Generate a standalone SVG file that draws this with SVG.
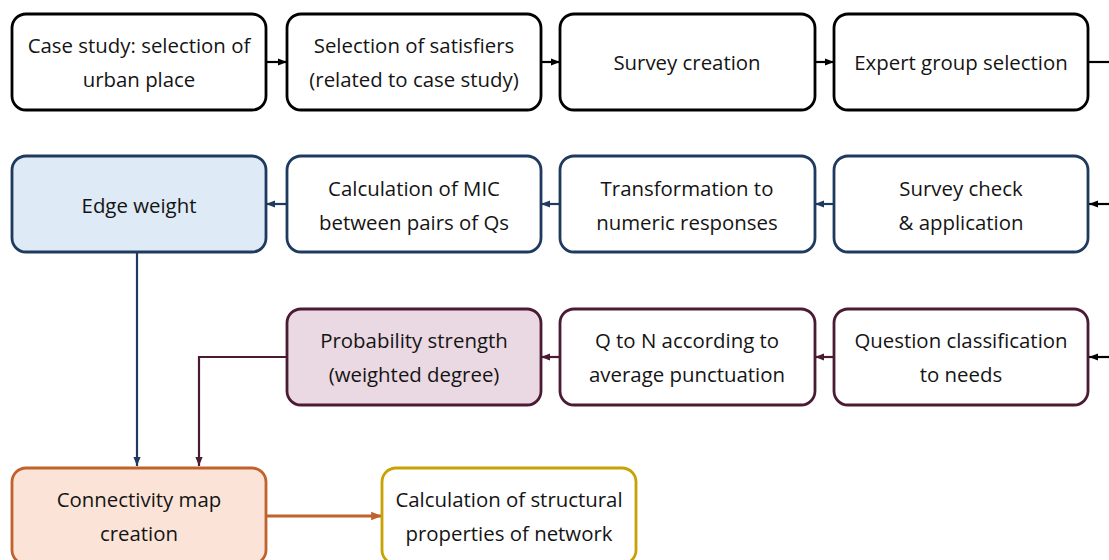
<svg xmlns="http://www.w3.org/2000/svg" width="1109" height="560" viewBox="0 0 1109 560">
<defs>
<style>
.box{stroke-width:2.8;}
.k{stroke:#000;fill:#fff;}
.b{stroke:#1f3a5f;fill:#fff;}
.bf{stroke:#1f3a5f;fill:#deeaf6;}
.p{stroke:#4b1a35;fill:#fff;}
.pf{stroke:#4b1a35;fill:#ead8e2;}
.o{stroke:#c0622c;fill:#fbe4d7;}
.g{stroke:#c9a100;fill:#fff;}
text{font-family:"Open Sans","Noto Sans","Liberation Sans",sans-serif;font-size:20.4px;fill:#141414;text-anchor:middle;}
.c{fill:none;stroke-width:2.2;}
.c.thick{stroke-width:3;}
</style>
<marker id="ak" viewBox="0 0 10 10" refX="10" refY="5" markerWidth="4.2" markerHeight="4.2" orient="auto" markerUnits="strokeWidth"><path d="M0,1 L10,5 L0,9 z" fill="#000"/></marker>
<marker id="ab" viewBox="0 0 10 10" refX="10" refY="5" markerWidth="4.2" markerHeight="4.2" orient="auto" markerUnits="strokeWidth"><path d="M0,1 L10,5 L0,9 z" fill="#1f3a5f"/></marker>
<marker id="ap" viewBox="0 0 10 10" refX="10" refY="5" markerWidth="4.2" markerHeight="4.2" orient="auto" markerUnits="strokeWidth"><path d="M0,1 L10,5 L0,9 z" fill="#4b1a35"/></marker>
<marker id="ao" viewBox="0 0 10 10" refX="10" refY="5" markerWidth="3.6" markerHeight="3.6" orient="auto" markerUnits="strokeWidth"><path d="M0,1 L10,5 L0,9 z" fill="#c0622c"/></marker>
</defs>
<rect width="1109" height="560" fill="#fff"/>
<g id="connectors">
<line class="c" x1="266" y1="62" x2="287" y2="62" stroke="#000" marker-end="url(#ak)"/>
<line class="c" x1="541" y1="62" x2="560" y2="62" stroke="#000" marker-end="url(#ak)"/>
<line class="c" x1="815" y1="62" x2="834" y2="62" stroke="#000" marker-end="url(#ak)"/>
<line class="c" x1="1089" y1="62" x2="1109" y2="62" stroke="#000"/>
<line class="c" x1="1109" y1="204" x2="1089" y2="204" stroke="#000" marker-end="url(#ak)"/>
<line class="c" x1="834" y1="204" x2="815" y2="204" stroke="#1f3a5f" marker-end="url(#ab)"/>
<line class="c" x1="560" y1="204" x2="541" y2="204" stroke="#1f3a5f" marker-end="url(#ab)"/>
<line class="c" x1="287" y1="204" x2="266" y2="204" stroke="#1f3a5f" marker-end="url(#ab)"/>
<line class="c" x1="1109" y1="357" x2="1089" y2="357" stroke="#000" marker-end="url(#ak)"/>
<line class="c" x1="834" y1="357" x2="815" y2="357" stroke="#4b1a35" marker-end="url(#ap)"/>
<line class="c" x1="560" y1="357" x2="541" y2="357" stroke="#4b1a35" marker-end="url(#ap)"/>
<line class="c" x1="137" y1="252" x2="137" y2="466" stroke="#1f3a5f" marker-end="url(#ab)"/>
<polyline class="c" points="287,357 199,357 199,466" stroke="#4b1a35" marker-end="url(#ap)"/>
<line class="c thick" x1="266" y1="516" x2="382" y2="516" stroke="#c0622c" marker-end="url(#ao)"/>
</g>
<g id="n1"><rect class="box k" x="12" y="14" width="254" height="96" rx="14"/><text x="139" y="53">Case study: selection of</text><text x="139" y="87">urban place</text></g>
<g id="n2"><rect class="box k" x="287" y="14" width="254" height="96" rx="14"/><text x="414" y="53">Selection of satisfiers</text><text x="414" y="87">(related to case study)</text></g>
<g id="n3"><rect class="box k" x="560" y="14" width="255" height="96" rx="14"/><text x="687" y="70">Survey creation</text></g>
<g id="n4"><rect class="box k" x="834" y="14" width="254" height="96" rx="14"/><text x="961" y="70">Expert group selection</text></g>
<g id="n5"><rect class="box bf" x="12" y="156" width="254" height="96" rx="14"/><text x="139" y="213">Edge weight</text></g>
<g id="n6"><rect class="box b" x="287" y="156" width="254" height="96" rx="14"/><text x="414" y="196">Calculation of MIC</text><text x="414" y="230">between pairs of Qs</text></g>
<g id="n7"><rect class="box b" x="560" y="156" width="255" height="96" rx="14"/><text x="687" y="196">Transformation to</text><text x="687" y="230">numeric responses</text></g>
<g id="n8"><rect class="box b" x="834" y="156" width="254" height="96" rx="14"/><text x="961" y="196">Survey check</text><text x="961" y="230">&amp; application</text></g>
<g id="n9"><rect class="box pf" x="287" y="309" width="254" height="96" rx="14"/><text x="414" y="348">Probability strength</text><text x="414" y="382">(weighted degree)</text></g>
<g id="n10"><rect class="box p" x="560" y="309" width="255" height="96" rx="14"/><text x="687" y="348">Q to N according to</text><text x="687" y="382">average punctuation</text></g>
<g id="n11"><rect class="box p" x="834" y="309" width="254" height="96" rx="14"/><text x="961" y="348">Question classification</text><text x="961" y="382">to needs</text></g>
<g id="n12"><rect class="box o" x="12" y="468" width="254" height="96" rx="14"/><text x="139" y="507">Connectivity map</text><text x="139" y="541">creation</text></g>
<g id="n13"><rect class="box g" x="382" y="468" width="254" height="96" rx="14"/><text x="509" y="507">Calculation of structural</text><text x="509" y="541">properties of network</text></g>
</svg>
